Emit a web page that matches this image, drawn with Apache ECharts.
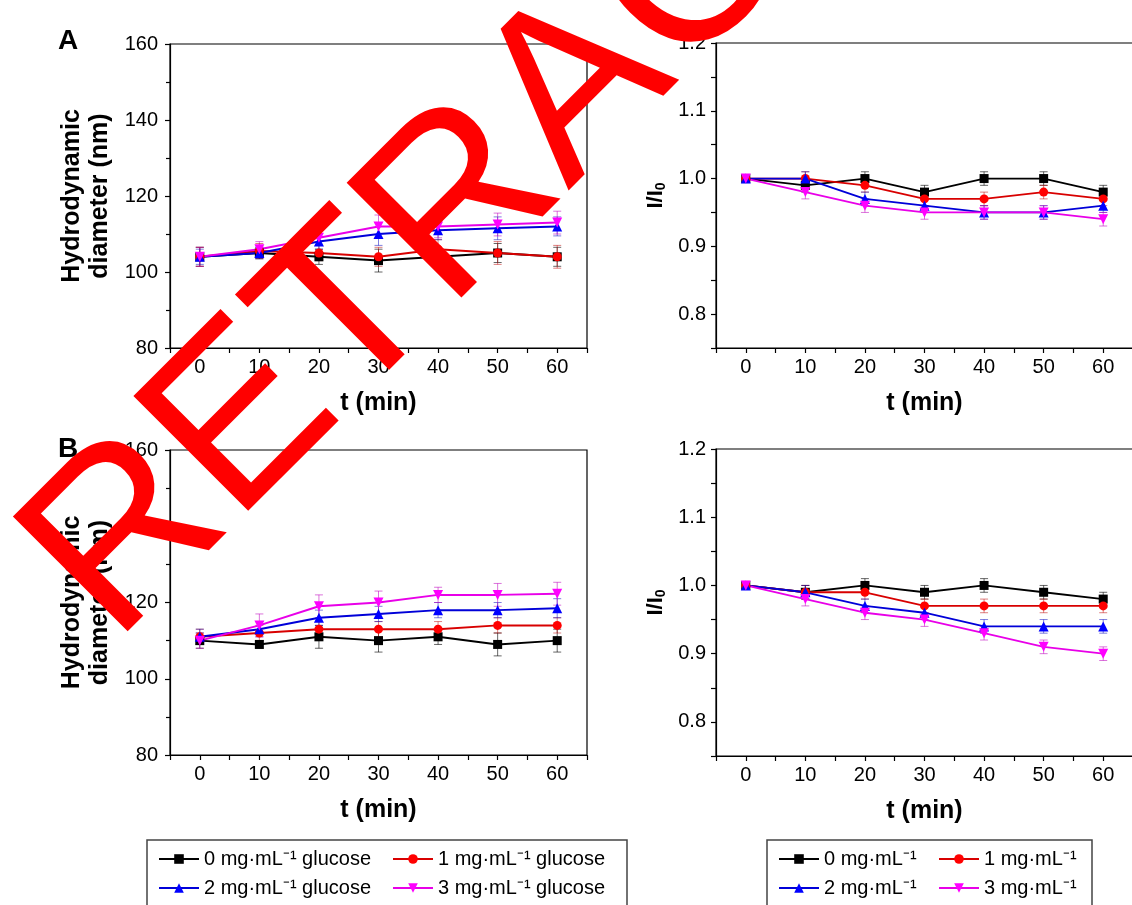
<!DOCTYPE html>
<html><head><meta charset="utf-8">
<script src="https://cdn.jsdelivr.net/npm/echarts@6/dist/echarts.min.js"></script>
<style>html,body{margin:0;padding:0;background:#fff;}#c{width:1132px;height:905px;}</style>
</head><body><div id="c"></div>
<script>
// ---- data ----
const tMin = [0, 10, 20, 30, 40, 50, 60];
const namesLeft = ['0 mg·mL⁻¹ glucose', '1 mg·mL⁻¹ glucose', '2 mg·mL⁻¹ glucose', '3 mg·mL⁻¹ glucose'];
const namesRight = ['0 mg·mL⁻¹', '1 mg·mL⁻¹', '2 mg·mL⁻¹', '3 mg·mL⁻¹'];

// Panel A, hydrodynamic diameter (nm)
const sizeA_0 = [104, 105, 104, 103, 104, 105, 104];
const sizeA_1 = [104, 105.5, 105, 104, 106, 105, 104];
const sizeA_2 = [104, 105, 108, 110, 111, 111.5, 112];
const sizeA_3 = [104, 106, 109, 112, 112, 112.5, 113];
const errSizeA_0 = [2.5, 1.5, 2, 3, 2, 2.5, 2.5];
const errSizeA_1 = [2.5, 2, 2, 2.5, 2.5, 3, 3];
const errSizeA_2 = [2, 1.5, 2, 3, 2.5, 3, 2.5];
const errSizeA_3 = [2.5, 2, 2, 3, 3, 3, 3];
// Panel A, I/I0
const ratioA_0 = [1.00, 0.99, 1.00, 0.98, 1.00, 1.00, 0.98];
const ratioA_1 = [1.00, 1.00, 0.99, 0.97, 0.97, 0.98, 0.97];
const ratioA_2 = [1.00, 1.00, 0.97, 0.96, 0.95, 0.95, 0.96];
const ratioA_3 = [1.00, 0.98, 0.96, 0.95, 0.95, 0.95, 0.94];
const errRatioA_0 = [0.005, 0.01, 0.01, 0.01, 0.01, 0.01, 0.01];
const errRatioA_1 = [0.005, 0.01, 0.01, 0.01, 0.01, 0.01, 0.01];
const errRatioA_2 = [0.005, 0.01, 0.01, 0.01, 0.01, 0.01, 0.01];
const errRatioA_3 = [0.005, 0.01, 0.01, 0.01, 0.01, 0.01, 0.01];
// Panel B, hydrodynamic diameter (nm)
const sizeB_0 = [110, 109, 111, 110, 111, 109, 110];
const sizeB_1 = [111, 112, 113, 113, 113, 114, 114];
const sizeB_2 = [111, 113, 116, 117, 118, 118, 118.5];
const sizeB_3 = [110, 114, 119, 120, 122, 122, 122.3];
const errSizeB_0 = [2, 1, 3, 3, 2, 3, 3];
const errSizeB_1 = [2, 2, 2, 2, 2, 2, 2];
const errSizeB_2 = [2, 2, 2, 2, 2, 2, 2.5];
const errSizeB_3 = [2, 3, 3, 3, 2, 3, 3];
// Panel B, I/I0
const ratioB_0 = [1.00, 0.99, 1.00, 0.99, 1.00, 0.99, 0.98];
const ratioB_1 = [1.00, 0.99, 0.99, 0.97, 0.97, 0.97, 0.97];
const ratioB_2 = [1.00, 0.99, 0.97, 0.96, 0.94, 0.94, 0.94];
const ratioB_3 = [1.00, 0.98, 0.96, 0.95, 0.93, 0.91, 0.90];
const errRatioB_0 = [0.005, 0.01, 0.01, 0.01, 0.01, 0.01, 0.01];
const errRatioB_1 = [0.005, 0.01, 0.01, 0.01, 0.01, 0.01, 0.01];
const errRatioB_2 = [0.005, 0.01, 0.01, 0.01, 0.01, 0.01, 0.01];
const errRatioB_3 = [0.005, 0.01, 0.01, 0.01, 0.01, 0.01, 0.01];

// ---- styling ----
const FONT = '"Liberation Sans", Arial, sans-serif';
const markColors = ['#000000', '#ff0000', '#0000ff', '#ff00ff'];
const lineColors = ['#000000', '#d80000', '#0000d8', '#e800e8'];
const errColors = ['rgba(0,0,0,0.6)', 'rgba(190,0,0,0.5)', 'rgba(0,0,190,0.5)', 'rgba(190,0,190,0.55)'];
const symbols = ['rect', 'circle', 'triangle', 'triangle'];
const symRot = [0, 0, 0, 180];
const symSize = [9, 9, 10, 10];

const grids = [
  {left: 170, top: 44, width: 417, height: 304},
  {left: 716, top: 43, width: 417, height: 305},
  {left: 170, top: 450, width: 417, height: 305},
  {left: 716, top: 449, width: 417, height: 307}
];

function xAx(i) {
  return {
    gridIndex: i, type: 'value', min: -5, max: 65, interval: 5,
    axisLine: {show: true, onZero: false, lineStyle: {color: '#000', width: 1.2}},
    axisTick: {show: true, inside: false, length: 5, lineStyle: {color: '#000', width: 1.2}},
    axisLabel: {margin: 9, fontSize: 20, color: '#000', fontFamily: FONT,
      formatter: v => (Math.round(v) % 10 === 0 && v >= 0 && v <= 60) ? String(Math.round(v)) : ''},
    splitLine: {show: false},
    name: 't (min)', nameLocation: 'middle', nameGap: 43,
    nameTextStyle: {fontSize: 25, fontWeight: 'bold', color: '#000', fontFamily: FONT}
  };
}
function yAxSize(i) {
  return {
    gridIndex: i, type: 'value', min: 80, max: 160, interval: 20,
    axisLine: {show: true, onZero: false, lineStyle: {color: '#000', width: 1.2}},
    axisTick: {show: true, inside: false, length: 5, lineStyle: {color: '#000', width: 1.2}},
    minorTick: {show: true, splitNumber: 2, length: 4, lineStyle: {color: '#000', width: 1.2}},
    axisLabel: {margin: 12, fontSize: 20, color: '#000', fontFamily: FONT},
    splitLine: {show: false},
    name: 'Hydrodynamic\ndiameter (nm)', nameLocation: 'middle', nameGap: 56, nameRotate: 90,
    nameTextStyle: {fontSize: 25, fontWeight: 'bold', color: '#000', fontFamily: FONT, lineHeight: 28}
  };
}
function yAxRatio(i) {
  return {
    gridIndex: i, type: 'value', min: 0.75, max: 1.2, interval: 0.05,
    axisLine: {show: true, onZero: false, lineStyle: {color: '#000', width: 1.2}},
    axisTick: {show: true, inside: false, length: 5, lineStyle: {color: '#000', width: 1.2}},
    axisLabel: {margin: 10, fontSize: 20, color: '#000', fontFamily: FONT,
      formatter: v => { const k = Math.round(v * 100); return k % 10 === 0 ? (k / 100).toFixed(1) : ''; }},
    splitLine: {show: false},
    name: 'I/I{s|0}', nameLocation: 'middle', nameGap: 48, nameRotate: 90,
    nameTextStyle: {fontSize: 22, fontWeight: 'bold', color: '#000', fontFamily: FONT,
      rich: {s: {fontSize: 14, fontWeight: 'bold', color: '#000', fontFamily: FONT, padding: [10, 0, 0, 0]}}}
  };
}

const series = [];
function addPanel(gi, vals, errs, names, lw) {
  vals.forEach((arr, k) => {
    const err = errs[k];
    series.push({
      type: 'custom', xAxisIndex: gi, yAxisIndex: gi, z: 2, silent: true,
      data: tMin.map((t, i) => [t, arr[i] - err[i], arr[i] + err[i]]),
      encode: {x: 0, y: [1, 2]},
      renderItem: (params, api) => {
        const x = api.value(0);
        const p1 = api.coord([x, api.value(1)]);
        const p2 = api.coord([x, api.value(2)]);
        const w = 4;
        const style = {stroke: errColors[k], lineWidth: 1};
        return {type: 'group', children: [
          {type: 'line', shape: {x1: p1[0], y1: p1[1], x2: p2[0], y2: p2[1]}, style},
          {type: 'line', shape: {x1: p1[0] - w, y1: p1[1], x2: p1[0] + w, y2: p1[1]}, style},
          {type: 'line', shape: {x1: p2[0] - w, y1: p2[1], x2: p2[0] + w, y2: p2[1]}, style}
        ]};
      }
    });
    series.push({
      type: 'line', name: names[k], xAxisIndex: gi, yAxisIndex: gi, z: 3,
      data: tMin.map((t, i) => [t, arr[i]]),
      symbol: symbols[k], symbolSize: symSize[k], symbolRotate: symRot[k], showAllSymbol: true,
      itemStyle: {color: markColors[k]},
      lineStyle: {color: lineColors[k], width: lw}
    });
  });
}
addPanel(0, [sizeA_0, sizeA_1, sizeA_2, sizeA_3], [errSizeA_0, errSizeA_1, errSizeA_2, errSizeA_3], namesLeft, 2);
addPanel(1, [ratioA_0, ratioA_1, ratioA_2, ratioA_3], [errRatioA_0, errRatioA_1, errRatioA_2, errRatioA_3], namesRight, 1.8);
addPanel(2, [sizeB_0, sizeB_1, sizeB_2, sizeB_3], [errSizeB_0, errSizeB_1, errSizeB_2, errSizeB_3], namesLeft, 2);
addPanel(3, [ratioB_0, ratioB_1, ratioB_2, ratioB_3], [errRatioB_0, errRatioB_1, errRatioB_2, errRatioB_3], namesRight, 1.8);

function leg(left, data) {
  return {left: left, top: 849, orient: 'vertical', itemGap: 9, itemWidth: 40, itemHeight: 12,
    padding: 0, selectedMode: false, data: data,
    textStyle: {fontSize: 20, color: '#000', fontFamily: FONT}};
}

const chart = echarts.init(document.getElementById('c'), null, {renderer: 'canvas'});
chart.setOption({
  animation: false,
  backgroundColor: '#ffffff',
  grid: grids.map(g => Object.assign({show: true, borderColor: '#000', borderWidth: 1.2, backgroundColor: 'transparent', containLabel: false, outerBoundsMode: 'none'}, g)),
  xAxis: [xAx(0), xAx(1), xAx(2), xAx(3)],
  yAxis: [yAxSize(0), yAxRatio(1), yAxSize(2), yAxRatio(3)],
  legend: [
    leg(158, [namesLeft[0], namesLeft[2]]),
    leg(392, [namesLeft[1], namesLeft[3]]),
    leg(778, [namesRight[0], namesRight[2]]),
    leg(938, [namesRight[1], namesRight[3]])
  ],
  series: series,
  graphic: [
    {type: 'rect', z: 10, shape: {x: 147, y: 840, width: 480, height: 90}, style: {fill: 'none', stroke: '#444', lineWidth: 1.5}},
    {type: 'rect', z: 10, shape: {x: 767, y: 840, width: 325, height: 90}, style: {fill: 'none', stroke: '#444', lineWidth: 1.5}},
    {type: 'text', z: 10, x: 68, y: 41, style: {text: 'A', font: 'bold 28px "Liberation Sans", Arial, sans-serif', fill: '#000', align: 'center', verticalAlign: 'middle', textAlign: 'center', textVerticalAlign: 'middle'}},
    {type: 'text', z: 10, x: 68, y: 449, style: {text: 'B', font: 'bold 28px "Liberation Sans", Arial, sans-serif', fill: '#000', align: 'center', verticalAlign: 'middle', textAlign: 'center', textVerticalAlign: 'middle'}},
    {type: 'text', z: 100, x: 578, y: 89, rotation: 45 * Math.PI / 180,
      style: {text: 'RETRACTED', font: '236px "Liberation Sans", Arial, sans-serif', fill: '#ff0000', align: 'center', verticalAlign: 'middle', textAlign: 'center', textVerticalAlign: 'middle'}}
  ]
});
</script>
</body></html>
